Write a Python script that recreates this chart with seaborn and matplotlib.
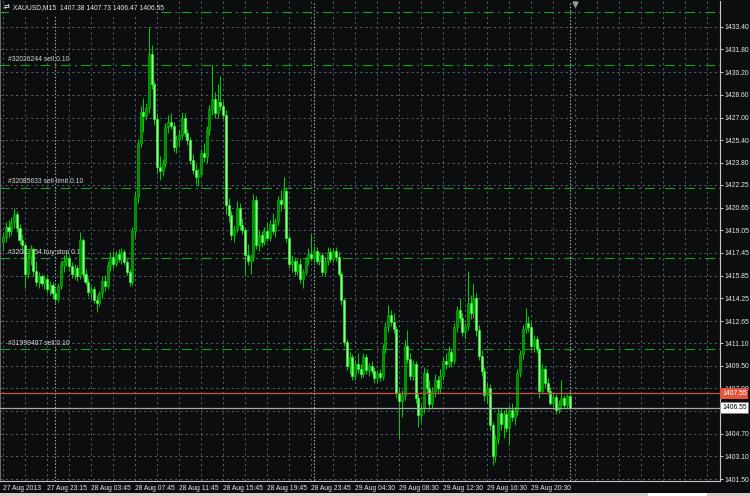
import numpy as np
import pandas as pd
import matplotlib
matplotlib.use("Agg")
import matplotlib.pyplot as plt
from matplotlib.patches import Rectangle
import seaborn as sns

# XAUUSD M15 bars, 27 Aug 2013 19:15 -> 30 Aug 00:00
opens = [
    1418.2, 1418.6, 1419.3, 1419.0, 1419.6, 1420.2, 1419.2, 1418.4, 1418.0, 1416.0,
    1417.2, 1417.7, 1416.2, 1415.4, 1415.8, 1415.3, 1415.6, 1414.9, 1415.2, 1414.6,
    1414.2, 1415.1, 1416.6, 1416.9, 1417.1, 1416.5, 1416.0, 1416.4, 1415.8, 1418.4,
    1416.0, 1415.4, 1414.7, 1414.9, 1414.1, 1413.9, 1414.6, 1415.5, 1415.1, 1416.6,
    1417.2, 1416.7, 1417.4, 1417.0, 1417.5, 1416.8, 1416.1, 1415.4, 1419.0, 1421.4,
    1425.2, 1427.4, 1427.1, 1427.7, 1431.5, 1429.4, 1426.9, 1423.5, 1423.2, 1423.8,
    1426.3, 1426.7, 1426.4, 1424.9, 1425.5, 1425.8, 1427.0, 1425.9, 1425.4, 1424.0,
    1423.3, 1422.8, 1423.0, 1424.5, 1424.2, 1426.1, 1427.6, 1428.3, 1427.3, 1428.1,
    1427.8, 1427.2, 1420.8, 1420.1, 1418.7, 1419.1, 1420.6, 1419.4, 1419.1, 1417.3,
    1416.9, 1417.2, 1421.2, 1418.0, 1418.7, 1418.2, 1419.0, 1418.5, 1419.5, 1419.0,
    1419.7, 1421.2, 1420.9, 1421.8, 1418.5, 1416.7, 1416.9, 1416.2, 1416.7, 1415.6,
    1416.1, 1417.0, 1417.4, 1417.1, 1417.6, 1416.9, 1417.3, 1416.1, 1416.9, 1417.5,
    1417.0, 1417.6, 1417.2, 1416.0, 1414.1, 1411.2, 1409.5, 1410.1, 1408.8, 1409.6,
    1409.3, 1408.9, 1410.1, 1409.2, 1409.5, 1409.1, 1408.6, 1409.0, 1408.7, 1410.7,
    1412.2, 1413.1, 1412.6, 1412.1, 1407.6, 1407.0, 1407.4, 1410.9, 1410.0, 1408.8,
    1409.6, 1407.2, 1406.0, 1406.5, 1409.0, 1407.9, 1406.8, 1407.7, 1408.5, 1407.9,
    1408.8, 1409.8, 1409.6, 1410.5, 1409.8, 1412.2, 1413.4, 1412.9, 1411.9, 1412.3,
    1413.9, 1413.2, 1414.3, 1412.0, 1410.2, 1409.1, 1407.4, 1407.9, 1405.3, 1403.1,
    1404.3, 1406.2, 1405.4, 1406.1, 1405.1, 1406.4, 1405.9, 1406.3, 1409.0, 1410.3,
    1412.1, 1412.5, 1412.2, 1410.9, 1411.4, 1410.7, 1407.7, 1409.3, 1408.3, 1407.7,
    1406.9, 1407.3, 1406.4, 1406.8, 1407.2, 1406.7, 1407.38,
]
highs = [
    1418.9, 1419.6, 1419.8, 1420.0, 1420.6, 1420.4, 1419.5, 1418.8, 1418.2, 1417.4,
    1418.0, 1417.9, 1416.9, 1416.1, 1416.0, 1415.9, 1415.8, 1415.5, 1415.4, 1415.0,
    1415.3, 1416.9, 1417.3, 1417.4, 1417.3, 1416.8, 1416.7, 1416.6, 1418.9, 1418.5,
    1416.3, 1415.7, 1415.1, 1415.1, 1414.5, 1414.8, 1415.8, 1415.9, 1416.9, 1417.5,
    1417.6, 1417.6, 1417.7, 1417.8, 1417.7, 1417.0, 1416.3, 1419.3, 1421.8, 1425.5,
    1427.8, 1428.4, 1428.0, 1433.4, 1432.1, 1429.6, 1427.3, 1424.3, 1424.1, 1426.6,
    1427.2, 1427.3, 1426.7, 1425.8, 1426.2, 1427.4, 1427.3, 1426.2, 1425.6, 1424.4,
    1423.7, 1423.4, 1424.8, 1425.2, 1426.4, 1427.9, 1430.7, 1428.8, 1429.4, 1429.9,
    1428.2, 1427.5, 1421.3, 1420.4, 1419.4, 1421.1, 1421.0, 1419.9, 1419.3, 1418.1,
    1417.4, 1421.6, 1421.5, 1419.1, 1419.0, 1419.3, 1419.6, 1419.8, 1420.3, 1419.9,
    1421.5, 1421.9, 1422.8, 1422.0, 1418.7, 1417.3, 1417.2, 1417.0, 1417.1, 1416.3,
    1417.2, 1417.8, 1418.8, 1418.0, 1417.9, 1417.5, 1417.5, 1417.2, 1417.9, 1417.8,
    1417.8, 1417.9, 1417.5, 1416.2, 1414.3, 1411.4, 1410.5, 1410.3, 1409.9, 1410.4,
    1409.6, 1410.4, 1410.3, 1409.7, 1409.8, 1409.4, 1409.2, 1409.3, 1411.0, 1412.6,
    1413.8, 1413.4, 1413.2, 1412.3, 1408.0, 1407.8, 1411.3, 1412.0, 1410.4, 1409.9,
    1409.8, 1407.5, 1406.8, 1409.4, 1409.3, 1408.5, 1408.0, 1408.9, 1408.8, 1409.3,
    1410.1, 1410.4, 1410.9, 1410.7, 1412.5, 1413.7, 1414.3, 1413.2, 1412.5, 1416.2,
    1414.5, 1415.3, 1414.6, 1412.4, 1410.6, 1409.4, 1408.3, 1408.2, 1405.5, 1404.6,
    1406.6, 1406.5, 1406.4, 1406.5, 1406.7, 1406.9, 1406.6, 1409.3, 1410.6, 1412.4,
    1413.6, 1413.0, 1412.6, 1411.7, 1411.6, 1410.9, 1409.6, 1409.5, 1408.6, 1408.0,
    1407.6, 1407.5, 1407.1, 1408.5, 1407.4, 1407.5, 1407.73,
]
lows = [
    1417.6, 1418.2, 1418.6, 1418.7, 1419.2, 1418.9, 1418.1, 1417.6, 1415.0, 1415.7,
    1416.6, 1415.8, 1415.1, 1415.0, 1415.1, 1414.9, 1414.6, 1414.5, 1414.3, 1413.9,
    1414.0, 1414.9, 1416.1, 1416.5, 1416.2, 1415.7, 1415.6, 1415.5, 1415.6, 1415.7,
    1415.2, 1414.4, 1414.2, 1413.9, 1413.3, 1413.7, 1414.3, 1414.8, 1414.9, 1416.2,
    1416.4, 1416.5, 1416.8, 1416.7, 1416.6, 1415.9, 1415.1, 1415.2, 1418.6, 1421.0,
    1424.9, 1426.0, 1426.8, 1427.3, 1429.0, 1426.5, 1423.0, 1422.6, 1422.9, 1423.5,
    1425.9, 1426.2, 1424.6, 1424.5, 1425.1, 1425.5, 1425.6, 1425.1, 1423.7, 1423.0,
    1422.3, 1422.2, 1422.8, 1423.9, 1423.8, 1425.8, 1427.2, 1427.0, 1427.0, 1427.5,
    1426.9, 1420.2, 1419.6, 1418.4, 1418.2, 1418.9, 1419.1, 1418.8, 1415.8, 1416.6,
    1416.0, 1416.9, 1417.7, 1417.6, 1417.9, 1418.0, 1418.3, 1418.3, 1418.8, 1418.6,
    1419.4, 1420.4, 1420.6, 1418.2, 1416.4, 1416.1, 1415.9, 1415.9, 1415.3, 1415.0,
    1415.9, 1416.6, 1416.9, 1416.8, 1416.7, 1416.6, 1415.8, 1415.9, 1416.6, 1416.8,
    1416.8, 1416.9, 1415.8, 1413.8, 1410.9, 1409.2, 1408.9, 1408.5, 1408.5, 1409.0,
    1408.6, 1408.7, 1408.9, 1408.8, 1408.9, 1408.3, 1408.3, 1408.4, 1408.5, 1410.4,
    1411.9, 1412.3, 1411.8, 1407.2, 1404.4, 1405.9, 1407.1, 1409.7, 1408.5, 1408.5,
    1406.9, 1405.2, 1405.5, 1406.2, 1407.6, 1406.4, 1406.5, 1407.3, 1407.6, 1407.6,
    1408.5, 1409.3, 1409.4, 1409.4, 1409.6, 1411.9, 1412.6, 1411.6, 1411.4, 1412.0,
    1412.8, 1412.9, 1411.6, 1409.9, 1408.8, 1407.0, 1406.9, 1405.0, 1402.5, 1402.7,
    1404.0, 1405.0, 1404.4, 1404.8, 1403.9, 1405.6, 1405.3, 1406.0, 1408.7, 1410.0,
    1411.8, 1411.9, 1410.6, 1410.5, 1410.4, 1407.2, 1407.5, 1408.0, 1407.5, 1406.7,
    1406.6, 1406.1, 1406.2, 1406.6, 1406.5, 1406.5, 1406.47,
]
closes = [
    1418.6, 1419.3, 1419.0, 1419.6, 1420.2, 1419.2, 1418.4, 1418.0, 1416.0, 1417.2,
    1417.7, 1416.2, 1415.4, 1415.8, 1415.3, 1415.6, 1414.9, 1415.2, 1414.6, 1414.2,
    1415.1, 1416.6, 1416.9, 1417.1, 1416.5, 1416.0, 1416.4, 1415.8, 1418.4, 1416.0,
    1415.4, 1414.7, 1414.9, 1414.1, 1413.9, 1414.6, 1415.5, 1415.1, 1416.6, 1417.2,
    1416.7, 1417.4, 1417.0, 1417.5, 1416.8, 1416.1, 1415.4, 1419.0, 1421.4, 1425.2,
    1427.4, 1427.1, 1427.7, 1431.5, 1429.4, 1426.9, 1423.5, 1423.2, 1423.8, 1426.3,
    1426.7, 1426.4, 1424.9, 1425.5, 1425.8, 1427.0, 1425.9, 1425.4, 1424.0, 1423.3,
    1422.8, 1423.0, 1424.5, 1424.2, 1426.1, 1427.6, 1428.3, 1427.3, 1428.1, 1427.8,
    1427.2, 1420.8, 1420.1, 1418.7, 1419.1, 1420.6, 1419.4, 1419.1, 1417.3, 1416.9,
    1417.2, 1421.2, 1418.0, 1418.7, 1418.2, 1419.0, 1418.5, 1419.5, 1419.0, 1419.7,
    1421.2, 1420.9, 1421.8, 1418.5, 1416.7, 1416.9, 1416.2, 1416.7, 1415.6, 1416.1,
    1417.0, 1417.4, 1417.1, 1417.6, 1416.9, 1417.3, 1416.1, 1416.9, 1417.5, 1417.0,
    1417.6, 1417.2, 1416.0, 1414.1, 1411.2, 1409.5, 1410.1, 1408.8, 1409.6, 1409.3,
    1408.9, 1410.1, 1409.2, 1409.5, 1409.1, 1408.6, 1409.0, 1408.7, 1410.7, 1412.2,
    1413.1, 1412.6, 1412.1, 1407.6, 1407.0, 1407.4, 1410.9, 1410.0, 1408.8, 1409.6,
    1407.2, 1406.0, 1406.5, 1409.0, 1407.9, 1406.8, 1407.7, 1408.5, 1407.9, 1408.8,
    1409.8, 1409.6, 1410.5, 1409.8, 1412.2, 1413.4, 1412.9, 1411.9, 1412.3, 1413.9,
    1413.2, 1414.3, 1412.0, 1410.2, 1409.1, 1407.4, 1407.9, 1405.3, 1403.1, 1404.3,
    1406.2, 1405.4, 1406.1, 1405.1, 1406.4, 1405.9, 1406.3, 1409.0, 1410.3, 1412.1,
    1412.5, 1412.2, 1410.9, 1411.4, 1410.7, 1407.7, 1409.3, 1408.3, 1407.7, 1406.9,
    1407.3, 1406.4, 1406.8, 1407.2, 1406.7, 1407.38, 1406.55,
]

time_labels = ["27 Aug 2013", "27 Aug 23:15", "28 Aug 03:45", "28 Aug 07:45",
               "28 Aug 11:45", "28 Aug 15:45", "28 Aug 19:45", "28 Aug 23:45",
               "29 Aug 04:30", "29 Aug 08:30", "29 Aug 12:30", "29 Aug 16:30",
               "29 Aug 20:30"]
day_start_bars = [19, 113, 206]   # period separators

# 1406.30 sits under the bid box in the terminal, so its text is left blank
price_levels = [1433.40, 1431.80, 1430.20, 1428.60, 1427.00, 1425.40, 1423.80,
                1422.25, 1420.65, 1419.05, 1417.45, 1415.85, 1414.25, 1412.65,
                1411.10, 1409.50, 1407.90, 1406.30, 1404.70, 1403.10, 1401.50]
price_labels = ["1433.40", "1431.80", "1430.20", "1428.60", "1427.00", "1425.40",
                "1423.80", "1422.25", "1420.65", "1419.05", "1417.45", "1415.85",
                "1414.25", "1412.65", "1411.10", "1409.50", "1407.90", "",
                "1404.70", "1403.10", "1401.50"]

order_names = ["#32026244 sell 0.10", "#32085633 sell limit 0.10",
               "#32083454 buy stop 0.10", "#31999487 sell 0.10"]
order_prices = [1430.70, 1422.06, 1417.07, 1410.65]
stop_price = 1434.44
ask_price = 1407.55
bid_price = 1406.55
header = "XAUUSD,M15  1407.38 1407.73 1406.47 1406.55"

assert len(opens) == len(highs) == len(lows) == len(closes)

df = pd.DataFrame({"open": opens, "high": highs, "low": lows, "close": closes})
df["bar"] = np.arange(len(df))
df["up"] = df["close"] > df["open"]

BG = "#0b0d0f"
GRID = "#58626c"
WICK = "#00cc00"
ORDER = "#1e9e1e"
FS = 4.9

sns.set_theme(style="dark", rc={
    "axes.facecolor": BG, "figure.facecolor": BG, "axes.grid": False,
    "axes.edgecolor": "#c8c8c8", "text.color": "#e6e6e6",
    "xtick.color": "#c8c8c8", "ytick.color": "#c8c8c8",
})
plt.rcParams["font.family"] = ["Liberation Sans", "DejaVu Sans"]
plt.rcParams["lines.scale_dashes"] = False

fig = plt.figure(figsize=(7.5, 4.96), dpi=100)
ax = fig.add_axes([0, 1 - 481 / 496, 720 / 750, 480 / 496])
ax.set_xlim(-1.1, 260.7)
ax.set_ylim(1401.37, 1435.22)

# grid
for i in range(0, 261, 8):
    ax.axvline(i, color=GRID, lw=0.7, dashes=(1.5, 2.2), zorder=1)
for p in price_levels:
    ax.axhline(p, color=GRID, lw=0.7, dashes=(1.5, 2.2), zorder=1)
for d in day_start_bars:
    ax.axvline(d, color="#b4b4b4", lw=0.8, dashes=(1.0, 1.4), zorder=1.2)

# order levels
ax.axhline(stop_price, color=ORDER, lw=0.8, dashes=(7, 3, 1.5, 3), zorder=1.5)
for name, p in zip(order_names, order_prices):
    ax.axhline(p, color=ORDER, lw=0.8, dashes=(7, 3, 1.5, 3), zorder=1.5)
    ax.annotate(name, xy=(8 / 720, p), xycoords=("axes fraction", "data"),
                xytext=(0, 2.5), textcoords="offset pixels",
                fontsize=FS, color="#d6d6d6", va="bottom", ha="left", zorder=2)

# candles
ax.vlines(df["bar"], df["low"], df["high"], color=WICK, lw=0.75, zorder=3)
body_low = df[["open", "close"]].min(axis=1)
body_h = (df["close"] - df["open"]).abs().clip(lower=0.05)
up = df["up"]
ax.bar(df["bar"][up], body_h[up], bottom=body_low[up], width=0.75,
       color="#008c00", edgecolor="#00b400", lw=0.5, zorder=4)
ax.bar(df["bar"][~up], body_h[~up], bottom=body_low[~up], width=0.75,
       color="#8cff8c", edgecolor="#2ef02e", lw=0.5, zorder=4)

# ask / bid lines
ax.axhline(ask_price, color="#c8563f", lw=0.9, zorder=5)
ax.axhline(bid_price, color="#a4a8ac", lw=0.9, zorder=5)

# price scale on the right
ax.yaxis.tick_right()
ax.set_yticks(price_levels, labels=price_labels)
ax.tick_params(axis="y", length=2.2, width=0.7, pad=1.2, labelsize=FS,
               labelcolor="#e8e8e8", color="#c8c8c8")
ax.text(1.003, ask_price, f"{ask_price:.2f}", transform=ax.get_yaxis_transform(),
        fontsize=FS, color="white", va="center", ha="left", zorder=10, clip_on=False,
        bbox=dict(boxstyle="square,pad=0.25", fc="#e2553c", ec="none"))
ax.text(1.003, bid_price, f"{bid_price:.2f}", transform=ax.get_yaxis_transform(),
        fontsize=FS, color="black", va="center", ha="left", zorder=10, clip_on=False,
        bbox=dict(boxstyle="square,pad=0.25", fc="white", ec="#808080", lw=0.5))

# time scale
ax.set_xticks(np.arange(len(time_labels)) * 16, labels=time_labels)
ax.tick_params(axis="x", length=2.2, width=0.7, pad=1.0, labelsize=FS,
               labelcolor="#e8e8e8", color="#c8c8c8")
for t in ax.get_xticklabels():
    t.set_ha("left")

for side in ["right", "bottom"]:
    ax.spines[side].set_color("#c8c8c8")
    ax.spines[side].set_linewidth(0.8)
ax.spines["left"].set_color("#7a7a7a")
ax.spines["top"].set_visible(False)

# header with its own black box over the top level line
ax.add_patch(Rectangle((9 / 720, (481 - 15) / 480), 147 / 720, 12 / 480,
                       transform=ax.transAxes, fc=BG, ec="none", zorder=6))
ax.text(4 / 720, (481 - 8) / 480, "\u21c4", transform=ax.transAxes, fontsize=5,
        color="white", va="center", ha="left", zorder=7, family="DejaVu Sans")
ax.text(13 / 720, (481 - 8) / 480, header, transform=ax.transAxes, fontsize=FS,
        color="#e8e8e8", va="center", ha="left", zorder=7)

# chart shift marker
ax.plot([len(df) + 0.9], [0.993], marker="v", ms=3.5, color="#9a9a9a",
        transform=ax.get_xaxis_transform(), clip_on=False, zorder=8)

# terminal tab strip at the very bottom
fig.patches.append(Rectangle((0, 0), 1, 3 / 496, transform=fig.transFigure,
                             fc="#d4d0c8", ec="none"))
fig.patches.append(Rectangle((648 / 750, 0), 59 / 750, 3 / 496,
                             transform=fig.transFigure, fc="white", ec="none"))

fig.savefig("out.png", dpi=100, facecolor=BG)
